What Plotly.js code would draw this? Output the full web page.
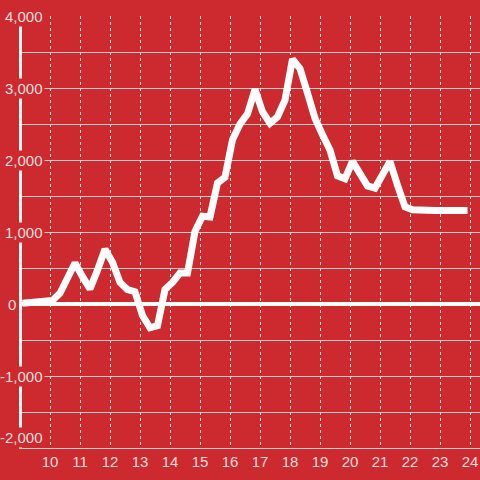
<!DOCTYPE html>
<html>
<head>
<meta charset="utf-8">
<script src="https://cdn.plot.ly/plotly-3.0.1.min.js"></script>
<style>
  html, body { margin: 0; padding: 0; background: #cc2a2f; }
  #chart { width: 480px; height: 480px; }
</style>
</head>
<body>
<div id="chart"></div>
<script>
// Time of day (hours) and values
const hours = [
  9.083, 9.333, 9.583, 9.833, 10.083, 10.333, 10.583, 10.833,
  11.083, 11.333, 11.583, 11.833, 12.083, 12.333, 12.583, 12.833,
  13.083, 13.333, 13.583, 13.833, 14.083, 14.333, 14.583, 14.833,
  15.083, 15.333, 15.583, 15.833, 16.083, 16.333, 16.583, 16.833,
  17.083, 17.333, 17.583, 17.833, 18.083, 18.333, 18.583, 18.833,
  19.083, 19.333, 19.583, 19.833, 20.083, 20.333, 20.583, 20.833,
  21.083, 21.333, 21.583, 21.833, 22.083, 22.333, 22.583, 22.833,
  23.083, 23.333, 23.583, 23.833, 23.917
];
const values = [
  10, 15, 25, 35, 50, 150, 380, 570,
  380, 210, 470, 760, 580, 300, 200, 170,
  -160, -330, -300, 200, 300, 430, 430, 1010,
  1220, 1210, 1680, 1760, 2280, 2500, 2640, 2980,
  2670, 2510, 2600, 2830, 3400, 3270, 2930, 2580,
  2350, 2140, 1780, 1740, 1980, 1820, 1640, 1610,
  1790, 1980, 1650, 1350, 1310, 1300, 1300, 1300,
  1300, 1300, 1300, 1300, 1300
];
const xTickValues = [10, 11, 12, 13, 14, 15, 16, 17, 18, 19, 20, 21, 22, 23, 24];
const xTickLabels = ['10', '11', '12', '13', '14', '15', '16', '17', '18', '19', '20', '21', '22', '23', '24'];
const yGridValues = [-2000, -1500, -1000, -500, 0, 500, 1000, 1500, 2000, 2500, 3000, 3500, 4000];
const yTickValues = [-2000, -1000, 0, 1000, 2000, 3000, 4000];
const yTickLabels = ['-2,000', '-1,000', '0', '1,000', '2,000', '3,000', '4,000'];

const RED = '#cc2a2f';
const TEXT = '#f3dede';
const GRID = '#cfcfcf';
const FONT = 'Liberation Sans, Arial, sans-serif';

const trace = {
  x: hours,
  y: values,
  type: 'scatter',
  mode: 'lines',
  line: { color: '#ffffff', width: 7 },
  hoverinfo: 'skip'
};

const yMin = yTickValues[0];
const annotations = yTickValues.map((v, i) => ({
  xref: 'paper', yref: 'y',
  x: 0, y: v,
  xanchor: 'right',
  yanchor: v === yMin ? 'bottom' : 'middle',
  xshift: yTickLabels[i] === '0' ? -4 : 23,
  text: yTickLabels[i],
  showarrow: false,
  bgcolor: RED,
  borderpad: 1,
  font: { family: FONT, size: 15, color: TEXT }
}));

const layout = {
  width: 480, height: 480,
  margin: { l: 22, r: 0, t: 16, b: 32, pad: 0 },
  paper_bgcolor: RED,
  plot_bgcolor: RED,
  showlegend: false,
  xaxis: {
    range: [9.0667, 24.3333],
    tickvals: xTickValues,
    ticktext: xTickLabels,
    ticks: '',
    showgrid: true,
    gridcolor: '#e6e6e6',
    griddash: 'dot',
    gridwidth: 1,
    zeroline: false,
    showline: true,
    linecolor: GRID,
    linewidth: 1,
    tickfont: { family: FONT, size: 15, color: TEXT }
  },
  yaxis: {
    range: [-2000, 4000],
    tickvals: yGridValues,
    showticklabels: false,
    ticks: '',
    showgrid: true,
    gridcolor: GRID,
    gridwidth: 1,
    zeroline: true,
    zerolinecolor: '#ffffff',
    zerolinewidth: 4,
    showline: true,
    linecolor: '#f4f4f4',
    linewidth: 3
  },
  annotations: annotations
};

Plotly.newPlot('chart', [trace], layout, { displayModeBar: false, staticPlot: true });
</script>
</body>
</html>
